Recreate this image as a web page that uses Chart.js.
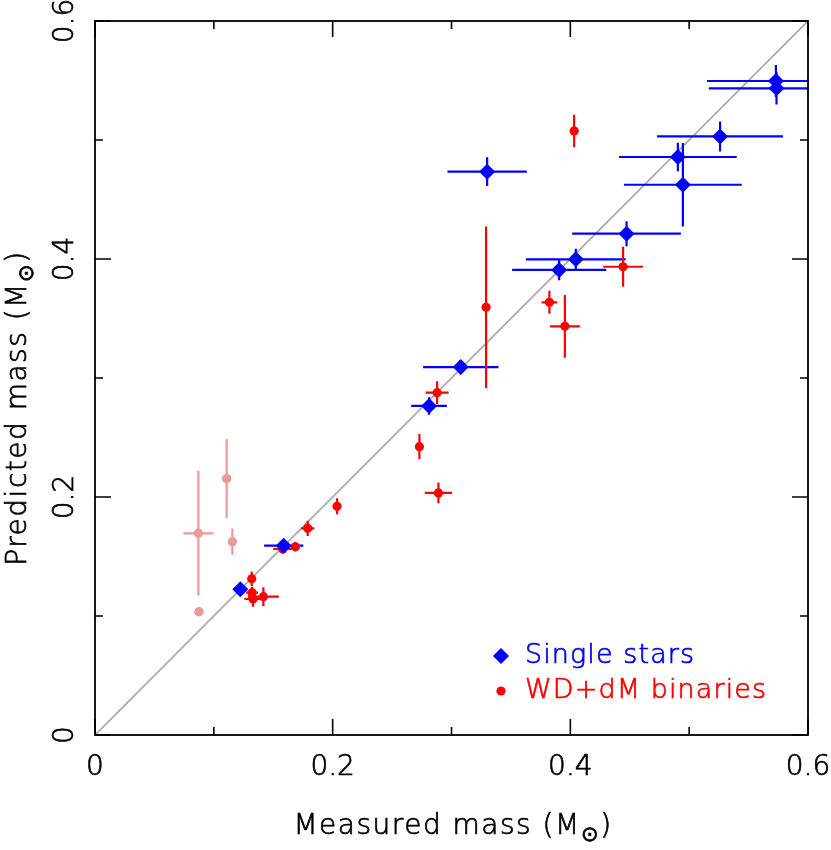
<!DOCTYPE html>
<html>
<head>
<meta charset="utf-8">
<script src="https://cdn.jsdelivr.net/npm/chart.js@4"></script>
<style>
  body { margin: 0; background: #fff; }
</style>
</head>
<body>
<canvas id="massChart" width="831" height="850"></canvas>
<script>
// Single stars (measured mass, predicted mass, errors)
const singleX    = [0.573, 0.5735, 0.526, 0.4905, 0.4947, 0.4473, 0.4046, 0.3906, 0.330, 0.3078, 0.2811, 0.1588, 0.1223];
const singleY    = [0.5496, 0.5434, 0.503, 0.4857, 0.4624, 0.4213, 0.3997, 0.3908, 0.4734, 0.3092, 0.2765, 0.1591, 0.1224];
const singleXErr = [0.058, 0.057, 0.053, 0.0495, 0.0496, 0.0457, 0.042, 0.0396, 0.0334, 0.0317, 0.015, 0.0165, 0.004];
const singleYErr = [0.0135, 0.0135, 0.0126, 0.012, 0.035, 0.0105, 0.009, 0.0087, 0.012, 0.006, 0.0073, 0.005, 0.004];

// WD+dM binaries
const binX    = [0.4032, 0.4444, 0.3291, 0.3824, 0.3954, 0.2879, 0.273, 0.289, 0.2037, 0.179, 0.1686, 0.158, 0.1319, 0.1322, 0.133, 0.1417];
const binY    = [0.5076, 0.3935, 0.3594, 0.3636, 0.3434, 0.2877, 0.2423, 0.2034, 0.1922, 0.1737, 0.1582, 0.1563, 0.1313, 0.1196, 0.1143, 0.1162];
const binXErr = [0.0036, 0.0167, 0.002, 0.0066, 0.0126, 0.0097, 0.003, 0.0115, 0.003, 0.0056, 0.004, 0.008, 0.003, 0.005, 0.0073, 0.013];
const binYErr = [0.0137, 0.0168, 0.068, 0.0097, 0.0263, 0.0095, 0.0106, 0.0087, 0.0067, 0.0064, 0.004, 0.004, 0.006, 0.005, 0.0066, 0.008];

// faint WD+dM binaries
const faintX    = [0.1108, 0.087, 0.1156, 0.0875];
const faintY    = [0.2154, 0.1695, 0.1624, 0.1036];
const faintXErr = [0.003, 0.0126, 0.002, 0.004];
const faintYErr = [0.0333, 0.0525, 0.0112, 0.002];

// one-to-one line
const lineX = [0, 0.6];
const lineY = [0, 0.6];

const tickValues = [0, 0.1, 0.2, 0.3, 0.4, 0.5, 0.6];
const tickLabels = ['0', '', '0.2', '', '0.4', '', '0.6'];

const FONT = '"DejaVu Sans", sans-serif';
const WEIGHT = '200 ';

function pts(xs, ys) {
    return xs.map((x, i) => ({ x: x, y: ys[i] }));
}

// fill + thin stroke so the light face reads a bit heavier
function text(ctx, s, x, y) {
    ctx.lineWidth = 0.7;
    ctx.strokeStyle = ctx.fillStyle;
    ctx.fillText(s, x, y);
    ctx.strokeText(s, x, y);
}

const errorBars = {
    id: 'errorBars',
    afterDatasetDraw(chart, args) {
        if (args.index !== 0) return;
        const ctx = chart.ctx;
        const xs = chart.scales.x, ys = chart.scales.y;
        const area = chart.chartArea;
        ctx.save();
        ctx.beginPath();
        ctx.rect(area.left, area.top, area.right - area.left, area.bottom - area.top);
        ctx.clip();
        chart.data.datasets.forEach(ds => {
            if (!ds.xErr) return;
            ctx.strokeStyle = ds.backgroundColor;
            ctx.lineWidth = 2.2;
            ds.data.forEach((p, i) => {
                const px = xs.getPixelForValue(p.x), py = ys.getPixelForValue(p.y);
                ctx.beginPath();
                ctx.moveTo(xs.getPixelForValue(p.x - ds.xErr[i]), py);
                ctx.lineTo(xs.getPixelForValue(p.x + ds.xErr[i]), py);
                ctx.moveTo(px, ys.getPixelForValue(p.y - ds.yErr[i]));
                ctx.lineTo(px, ys.getPixelForValue(p.y + ds.yErr[i]));
                ctx.stroke();
            });
        });
        ctx.restore();
    }
};

function drawTitle(ctx, parts, size) {
    // draws "main" + subscript + "tail", centred at the origin
    ctx.letterSpacing = '1.5px';
    ctx.font = WEIGHT + size + 'px ' + FONT;
    const w1 = ctx.measureText(parts[0]).width;
    const w3 = ctx.measureText(parts[2]).width;
    ctx.font = WEIGHT + Math.round(size * 0.75) + 'px ' + FONT;
    const w2 = ctx.measureText(parts[1]).width;
    let x = -(w1 + w2 + w3) / 2;
    ctx.textAlign = 'left';
    ctx.textBaseline = 'alphabetic';
    ctx.font = WEIGHT + size + 'px ' + FONT;
    text(ctx, parts[0], x, 0);
    x += w1;
    ctx.font = WEIGHT + Math.round(size * 0.75) + 'px ' + FONT;
    text(ctx, parts[1], x, 7);
    x += w2;
    ctx.font = WEIGHT + size + 'px ' + FONT;
    text(ctx, parts[2], x, 0);
    ctx.letterSpacing = '0px';
}

const frame = {
    id: 'frame',
    afterDraw(chart) {
        const ctx = chart.ctx;
        const xs = chart.scales.x, ys = chart.scales.y;
        const a = chart.chartArea;
        ctx.save();
        ctx.strokeStyle = '#000';
        ctx.lineWidth = 1.8;
        ctx.strokeRect(a.left, a.top, a.right - a.left, a.bottom - a.top);

        ctx.lineWidth = 1.6;
        tickValues.forEach((v, i) => {
            const len = tickLabels[i] !== '' ? 16 : 8;
            const px = xs.getPixelForValue(v), py = ys.getPixelForValue(v);
            ctx.beginPath();
            ctx.moveTo(px, a.bottom); ctx.lineTo(px, a.bottom - len);
            ctx.moveTo(px, a.top); ctx.lineTo(px, a.top + len);
            ctx.moveTo(a.left, py); ctx.lineTo(a.left + len, py);
            ctx.moveTo(a.right, py); ctx.lineTo(a.right - len, py);
            ctx.stroke();
        });

        ctx.fillStyle = '#000';
        ctx.font = WEIGHT + '28px ' + FONT;
        tickValues.forEach((v, i) => {
            if (tickLabels[i] === '') return;
            ctx.textAlign = 'center';
            ctx.textBaseline = 'alphabetic';
            text(ctx, tickLabels[i], xs.getPixelForValue(v), 775);
            ctx.save();
            ctx.translate(73, ys.getPixelForValue(v));
            ctx.rotate(-Math.PI / 2);
            text(ctx, tickLabels[i], 0, 0);
            ctx.restore();
        });

        // axis titles
        ctx.save();
        ctx.translate(453, 834);
        drawTitle(ctx, ['Measured mass (M', '\u2299', ')'], 28);
        ctx.restore();
        ctx.save();
        ctx.translate(26, 408);
        ctx.rotate(-Math.PI / 2);
        drawTitle(ctx, ['Predicted mass (M', '\u2299', ')'], 28);
        ctx.restore();

        // legend
        const leg = [
            { label: 'Single stars', color: '#0000ff', shape: 'diamond', y: 656 },
            { label: 'WD+dM binaries', color: '#ff0000', shape: 'dot', y: 691 }
        ];
        leg.forEach(item => {
            ctx.fillStyle = item.color;
            ctx.beginPath();
            if (item.shape === 'diamond') {
                ctx.moveTo(501, item.y - 8); ctx.lineTo(509, item.y);
                ctx.lineTo(501, item.y + 8); ctx.lineTo(493, item.y);
                ctx.closePath();
            } else {
                ctx.arc(501, item.y, 4.6, 0, Math.PI * 2);
            }
            ctx.fill();
            ctx.letterSpacing = '1.1px';
            ctx.font = WEIGHT + '27px ' + FONT;
            ctx.textAlign = 'left';
            ctx.textBaseline = 'middle';
            text(ctx, item.label, 525, item.y);
            ctx.letterSpacing = '0px';
        });
        ctx.restore();
    }
};

const ctx = document.getElementById('massChart').getContext('2d');

new Chart(ctx, {
    type: 'scatter',
    data: {
        datasets: [
            {
                type: 'line',
                data: pts(lineX, lineY),
                borderColor: '#aaaaaa',
                borderWidth: 1.8,
                pointRadius: 0,
                order: 10
            },
            {
                label: 'Single stars',
                data: pts(singleX, singleY),
                xErr: singleXErr,
                yErr: singleYErr,
                backgroundColor: '#0000ff',
                borderWidth: 0,
                pointStyle: 'rectRot',
                pointRadius: 8,
                order: 1
            },
            {
                label: 'WD+dM binaries',
                data: pts(binX, binY),
                xErr: binXErr,
                yErr: binYErr,
                backgroundColor: '#ff0000',
                borderWidth: 0,
                pointRadius: 4.6,
                order: 2
            },
            {
                label: 'faint',
                data: pts(faintX, faintY),
                xErr: faintXErr,
                yErr: faintYErr,
                backgroundColor: '#e89b9b',
                borderWidth: 0,
                pointRadius: 4.7,
                order: 3
            }
        ]
    },
    options: {
        responsive: false,
        animation: false,
        layout: { padding: { left: 95, right: 23, top: 21, bottom: 115 } },
        plugins: { legend: { display: false }, tooltip: { enabled: false } },
        scales: {
            x: { type: 'linear', min: 0, max: 0.6, display: false },
            y: { type: 'linear', min: 0, max: 0.6, display: false }
        }
    },
    plugins: [errorBars, frame]
});
</script>
</body>
</html>
